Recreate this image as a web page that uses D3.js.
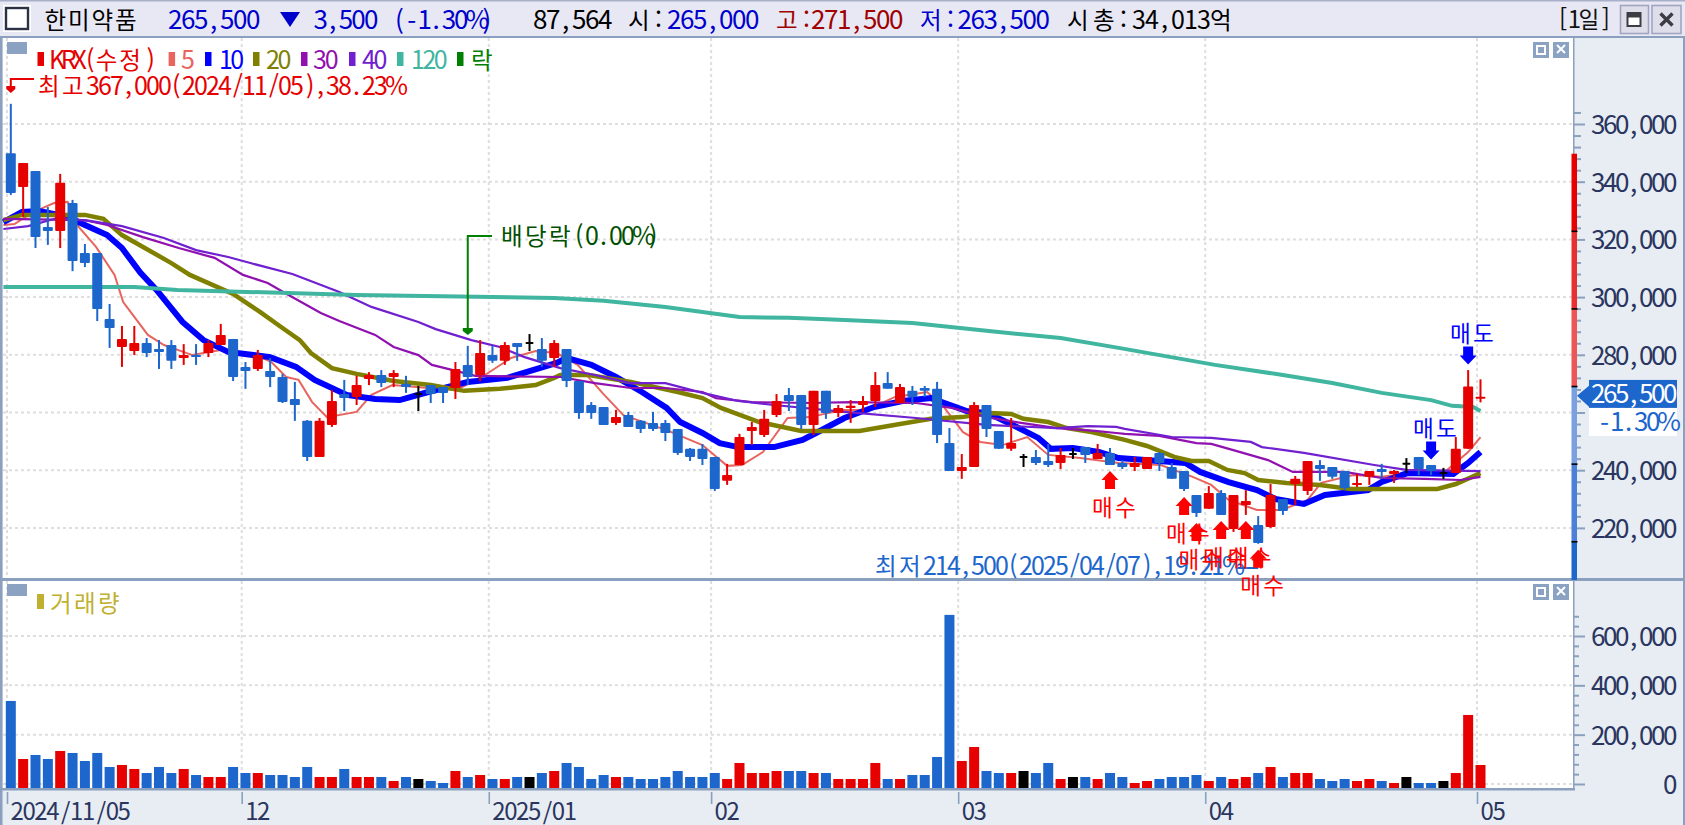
<!DOCTYPE html>
<html lang="ko"><head><meta charset="utf-8">
<script src="https://cdn.jsdelivr.net/npm/d3@7"></script>
<style>html,body{margin:0;padding:0;background:#fff;overflow:hidden}svg{display:block}text{font-family:"Liberation Sans Narrow","Noto Sans CJK KR",sans-serif}</style>
</head><body><svg id="c" width="1685" height="825"></svg>
<script>
// ---------- data (prices in thousand KRW, volumes in thousand shares) ----------
const opens=[349.9,338.2,343.7,324.3,322.9,332.6,315.3,315.3,292.4,282.7,281.3,284.1,282,283.4,278.9,279.9,280.6,283.4,285.5,275.8,275.1,274.4,272.3,264.7,257.1,244.6,255.7,266.4,265.4,271.6,273,272.3,269.9,266.4,269.5,268.8,268.5,276.5,273,279.9,277.9,284.1,284.1,282,278.9,282,270.9,262.6,261.9,256.4,259.1,257.1,256.4,256.4,254.3,247.4,247.4,244.6,236.3,241.8,253.6,252.2,259.1,266.1,266.1,255.7,267.5,259.8,261.6,262.6,264,270.2,263.3,267.5,268.5,268.2,249.4,239.7,241.1,262.6,253.6,247.4,244.6,244.6,243.2,242.5,245.6,248,243.9,246,242.5,241.1,240.4,246,241.1,239.7,231.4,226.6,232.1,219.6,227.9,221,220.3,230,235.2,232.8,241.8,241.1,239.7,234.9,237.7,240.4,238.7,242.2,244.6,241.8,239,239,247.4,265];
const closes=[336.1,346.5,320.8,322.9,339.6,312.5,311.8,295.9,289.3,285.5,284.1,280.6,281,277.9,279.9,279.6,284.1,286.9,272.3,274.4,279.9,272.3,263.6,262.6,244.6,257.1,264,265,269.5,273,270.2,273.7,268.8,266.4,266.4,266.8,275.1,272.3,280.6,277.9,283.4,282.7,284.1,277.9,284.1,270.9,259.8,259.8,255.7,258.4,255,254.3,254.3,252.9,246,244.6,243.9,233.5,238.3,251.5,255,257.8,264,264,255.7,267.5,259.8,261.6,262.3,264,269.5,268.2,268.8,265.4,267.5,252.2,239.7,241.1,262.6,254.3,247.4,249.4,244.6,242.5,241.8,245.3,245.6,245.3,246,241.8,241.1,242.5,244.6,242.5,237,233.5,225.2,232.1,224.5,231.4,229.3,214.8,231.4,225.9,237,243.2,240.4,237.7,233.8,235.6,239.7,239.4,239.7,242.2,240.4,239.7,239,247.4,269,265.5];
const highs=[367,346.5,343.7,331.2,342.7,333.7,318.4,315.3,297.6,290,290,285.8,285.1,285.1,283.7,283.7,285.1,290.7,285.5,277.5,281.7,278.9,273.4,270.6,257.4,258.1,267.8,271.3,272.7,274,274.7,274.7,272.7,269.2,269.5,268.8,277.5,283.1,285.1,283.1,284.4,284.1,287.2,285.8,285.1,282,270.9,263.6,261.9,260.9,260.2,257.4,260.2,257.4,254.3,247.7,249.1,244.6,242.2,252.6,256.7,260.9,266.4,268.5,266.1,267.5,267.5,262.6,264.3,265.7,274,274,269.9,269.2,269.2,270.6,254.6,245.6,263.6,262.6,253.6,258.1,245.6,247,249.1,247.7,247.7,248,249.1,247.7,243.5,244.6,244.6,246.3,242.5,239.7,231.4,234.5,233.1,231.4,233.1,224.1,235.2,230,238,243.2,243.5,241.1,239.7,238.7,239.7,242.2,240.1,244.2,244.6,241.8,240.8,251.5,274.7,271.5];
const lows=[335.4,327.8,317,318.1,317,309,310.4,291.7,282.4,275.8,279.9,279.2,275.1,275.1,276.5,276.5,279.2,283.4,270.9,268.2,274.4,268.8,263.3,257.1,243.2,244.6,255,260.5,262.6,269.5,268.8,268.8,266.8,260.5,263.3,263.3,264.7,269.5,270.9,277.2,276.5,277.9,281.3,275.8,275.8,268.8,257.8,257.8,255.7,255.7,255,252.9,253.6,250.1,245.3,243.2,241.8,232.8,234.9,241.8,248.7,251.5,258.4,260.5,254.3,252.2,257.8,258.4,256.4,260.2,261.9,268.2,263.3,262.6,265.4,249.4,239.7,237,241.1,251.5,247.4,246.7,241.1,241.8,241.1,240.4,243.9,242.5,243.9,241.8,240.4,239.7,240.4,239.7,237,232.8,223.8,226.6,224.5,218.6,224.5,214.5,220,224.5,228,231.4,236.3,237,233.1,234.2,234.9,237,235.6,239,238.3,238.3,237,239,247.4,263.5];
const volumes=[336.7,101.4,117.7,101.4,133.9,125.8,93.3,125.8,69,77.1,60.9,44.6,69,44.6,60.9,36.5,28.4,28.4,69,44.6,44.6,36.5,36.5,28.4,69,28.4,28.4,60.9,28.4,28.4,28.4,12.2,28.4,20.3,12.2,4.1,52.7,28.4,36.5,20.3,20.3,28.4,28.4,44.6,52.7,85.2,69,20.3,36.5,28.4,28.4,20.3,20.3,28.4,52.7,28.4,28.4,44.6,20.3,85.2,44.6,44.6,52.7,52.7,52.7,44.6,44.6,20.3,20.3,20.3,85.2,20.3,20.3,36.5,36.5,109.5,685.6,93.3,150.1,52.7,44.6,44.6,52.7,44.6,85.2,20.3,28.4,28.4,20.3,44.6,28.4,4.1,12.2,20.3,28.4,28.4,36.5,12.2,28.4,20.3,28.4,44.6,69,28.4,44.6,44.6,20.3,12.2,20.3,12.2,20.3,12.2,4.1,28.4,4.1,4.1,12.2,44.6,279.9,77.1];
// moving averages as read: [bar index, price]
const ma5=[[-.6,325],[.3,325.3],[1.2,327.8],[2.6,330.9],[3.5,332.6],[4.6,333],[5.5,324.3],[6.9,317.4],[8.4,307.7],[9.1,298.3],[11.1,286.9],[12.4,283.4],[14.7,279.9],[17,281.7],[19.9,279.9],[21.1,277.5],[22.3,272.3],[23.3,271.3],[24.4,263.6],[25.6,258.4],[28,260.2],[29.2,266.1],[30.9,269.5],[33.8,268.5],[36.1,267.8],[38.4,273],[40.5,278.9],[42.5,281.3],[44.2,280.6],[45.9,276.5],[47.9,266.8],[49.6,259.1],[53.1,253.9],[56,248.7],[58,241.5],[59.2,241.8],[60.9,246.3],[62.9,258.1],[64.7,258.4],[67.3,260.9],[69.3,260.9],[71.6,265.4],[74.2,267.1],[75.6,261.6],[77.1,253.2],[78.5,249.8],[80.3,248.7],[82.3,251.5],[84,245.3],[86.6,244.2],[89.7,242.5],[93.1,241.8],[95.7,237.7],[97.2,234.9],[98.6,229.7],[100.9,226.2],[102.9,226.2],[105,229.7],[106.1,235.6],[108.7,238.3],[111,237.7],[113.3,239],[116.2,239.7],[118,246.3],[119,251.5]];
const ma10=[[-.6,326],[.9,329.5],[2.3,329.8],[4.6,327.8],[6,325],[7.8,321.5],[9,317],[10.5,308.4],[11.8,302.5],[13.9,291.4],[15.6,285.1],[17.6,281],[21,279.2],[23.1,275.8],[24.6,271.3],[27.2,266.1],[29.5,264.7],[31.5,264.3],[33.8,267.1],[37,270.6],[40.2,272],[44.2,277.2],[45,278.9],[47,276.5],[49,272.3],[51.1,267.1],[53.1,261.6],[54.2,256.7],[56,252.9],[57.4,249.4],[58.9,248],[61.8,248],[64.1,250.5],[65.2,252.9],[67.5,258.1],[69.9,261.9],[72.2,264],[74.5,265],[75.6,263.3],[77.4,260.5],[79.1,259.8],[81.1,255.7],[83.2,251.2],[84.2,247.4],[86,247.7],[88.1,246.3],[89.7,244.2],[95.1,242.5],[96.3,239.4],[98.6,235.9],[100.9,233.1],[102.4,230],[104.7,228.3],[106.4,231.4],[109.9,233.1],[111,235.9],[113.1,239],[116.8,238.7],[118,242.5],[119,246.3]];
const ma20=[[-.6,326.7],[.9,328.5],[6,328.5],[7.5,327.1],[9,321.5],[13,311.8],[14.5,307.7],[18,301.1],[20.2,294.8],[22,289.3],[23.4,285.1],[24.3,280.6],[26,275.4],[28,273.4],[31,270.9],[34,269.5],[36.7,267.5],[39.6,268.2],[42.5,269.5],[44,272],[44.5,273],[46.8,273],[50.2,270.6],[54,267.1],[56,265],[57.5,261.6],[60.6,256.7],[64,253.6],[68.7,253.6],[72,256],[74.5,257.8],[77,258.4],[79.3,259.8],[81,259.5],[82,257.8],[84,256.7],[85.5,254.6],[87.5,253.2],[90.2,250.5],[92,248.4],[94.2,244.6],[95.6,243.2],[97,243.2],[98.5,240.1],[99.9,239],[101,236.6],[103.3,235.6],[106,234.9],[108.5,233.5],[115.5,233.5],[117,235.2],[119,239]];
const ma30=[[-.6,327.1],[6,326.7],[7.8,325],[10.7,320.8],[13.6,317],[16.5,313.6],[18.8,307.7],[20.8,304.9],[22.2,301.4],[25.1,294.5],[26.6,291.7],[29.5,286.9],[31,282.7],[33,279.9],[34.1,276.5],[35.8,274.7],[37.6,272.7],[44.5,272.3],[47.3,270.2],[50.2,268.5],[53,268.5],[56,267.1],[57.1,265],[60,263.6],[64.7,263.3],[68,263.6],[73.3,263.3],[76.2,261.6],[79,258.4],[81.8,256.4],[84.7,254.6],[87.8,253.6],[89.5,252.9],[90.2,252.6],[93,251.9],[96,249.4],[97.2,249.1],[99.2,246.7],[101.8,243.5],[103.8,239.4],[108,239.4],[111,237.3],[114.5,237],[117.4,236.6],[119,237.7]];
const ma40=[[-.6,323.6],[1.4,324.6],[3.8,327.4],[6.4,326.4],[9,324.6],[12.4,320.5],[15,316.3],[17.6,313.9],[19.4,311.8],[22.8,308],[26.6,301.8],[29.2,296.6],[33,291.4],[34.4,288.9],[37.3,285.1],[39.6,282.7],[41.6,279.2],[44.5,275.4],[47.3,273],[50.2,270.2],[53,270.2],[56,266.8],[58.9,264],[61.8,262.6],[67.5,260.2],[73.3,258.1],[79,255.7],[84.7,254.6],[87.2,255.3],[89.5,255],[90.2,254.3],[94,251.5],[97.2,251.2],[100.4,249.8],[101.3,248],[104.7,246],[110.4,241.8],[113,240.1],[119,239.7]];
const ma120=[[-.6,303.5],[10,303.5],[13.5,302.5],[28,300.7],[44,299.7],[48,298.7],[53,296.6],[56,294.8],[59,293.1],[63,292.8],[67.5,292.1],[73,291],[79,288.3],[85,285.8],[89.7,282.4],[97.5,276.5],[103,273],[107,270.2],[111,266.8],[115,264.3],[116.7,262.3],[118.4,261.9],[119,260.5]];
const priceTicks=[220,240,260,280,300,320,340,360];
const volumeTicks=[0,200,400,600];
const monthBars=[0,19,39,57,77,97,119];
const monthLabels=["2024/11/05","12","2025/01","02","03","04","05"];
const buyBars=[89,95,96,98,100,101];
const sellBars=[115,118];
const dividendBar=37;
const limitStops=[349.7,322.8,295.9,269,242.1,215.2,188.3];

// ---------- palette / layout ----------
const RED="#e60000",BLUE="#1c66cc",FRAME="#8aa0be",AXBG="#e7edf2",NAVY="#2a3560";
const svg=d3.select("#c");
const fmt=d=>d3.format(",")(d*1000);
const x=d3.scaleLinear().domain([0,119]).range([10.8,1480.5]);
const xTick=d3.scaleLinear().domain([0,119]).range([7,1477]);
const y=d3.scaleLinear().domain([360,220]).range([124,527.9]);
const yV=d3.scaleLinear().domain([0,600]).range([784,636]);
const L=3,R=1573,PT=38,PB=578,VT=581,VB=788;

// half-width / full-width character cells, as in the original terminal font
const isWide=ch=>ch.charCodeAt(0)>0x2E80;
const nudge={",":3,"/":3,".":3,":":1,"(":2,")":4,"[":2,"]":2,"-":2,"%":-1};
function mono(sel,str,x0,adv,size){
  sel.attr("font-size",size).text(null);
  let p=x0,run=null,runWide=null,xs=[];
  const flush=()=>{if(run===null)return;sel.append("tspan").attr("x",xs.join(" ")).attr("font-size",runWide?size*.94:size).text(run);};
  for(const ch of str){
    const w=isWide(ch);
    if(w!==runWide){flush();run="";xs=[];runWide=w;}
    run+=ch;xs.push((p+(nudge[ch]||0)).toFixed(1));
    p+=w?adv*2:adv;
  }
  flush();return sel;
}
function label(g,str,x0,yc,adv,size,color,weight){
  const t=g.append("text").attr("y",yc).attr("dy",".36em").attr("font-size",size).attr("fill",color);
  if(weight)t.attr("font-weight",weight);
  return mono(t,str,x0,adv,size);
}
// backgrounds
svg.append("rect").attr("width",1685).attr("height",825).attr("fill",AXBG);
svg.append("rect").attr("x",L).attr("y",PT).attr("width",R-L).attr("height",PB-PT).attr("fill","#fff");
svg.append("rect").attr("x",L).attr("y",VT).attr("width",R-L).attr("height",VB-VT).attr("fill","#fff");
svg.append("rect").attr("width",1685).attr("height",36).attr("fill","#e8e8f5");
svg.append("rect").attr("width",1685).attr("height",1.5).attr("fill","#a8afc8");
svg.append("rect").attr("y",36).attr("width",1685).attr("height",2).attr("fill",FRAME);
svg.append("rect").attr("x",0).attr("y",36).attr("width",2.5).attr("height",789).attr("fill",FRAME);
svg.append("rect").attr("x",1683).attr("y",36).attr("width",2).attr("height",789).attr("fill",FRAME);
svg.append("rect").attr("x",0).attr("y",PB).attr("width",1685).attr("height",3).attr("fill",FRAME);
svg.append("rect").attr("x",0).attr("y",VB).attr("width",R+2).attr("height",2.5).attr("fill",FRAME);
svg.append("rect").attr("x",R).attr("y",36).attr("width",1.5).attr("height",VB-36).attr("fill",FRAME);

// grid
const grid=svg.append("g").attr("stroke","#dedede").attr("stroke-width",2).attr("stroke-dasharray","3 3");
grid.selectAll(".h").data(priceTicks).join("line").attr("x1",L).attr("x2",R).attr("y1",y).attr("y2",y);
grid.selectAll(".v").data(volumeTicks).join("line").attr("x1",L).attr("x2",R).attr("y1",yV).attr("y2",yV);
monthBars.forEach(i=>{
  grid.append("line").attr("x1",xTick(i)).attr("x2",xTick(i)).attr("y1",PT).attr("y2",PB);
  grid.append("line").attr("x1",xTick(i)).attr("x2",xTick(i)).attr("y1",VT).attr("y2",VB);
});

// moving averages
const line=d3.line().x(d=>x(d[0])).y(d=>y(d[1]));
[[ma5,"#e8645f",2],[ma10,"#0000ff",6],[ma20,"#808000",4.5],[ma30,"#9010b0",2.2],[ma40,"#7020d0",2.2],[ma120,"#40b5a0",4]].forEach(([d,c,w])=>{
  svg.append("path").attr("d",line(d)).attr("fill","none").attr("stroke",c).attr("stroke-width",w);
});

// candles
const idx=d3.range(closes.length);
const col=i=>closes[i]>opens[i]?RED:closes[i]<opens[i]?BLUE:"#000";
const cg=svg.append("g");
cg.selectAll("line").data(idx).join("line").attr("x1",x).attr("x2",x).attr("y1",i=>y(highs[i])).attr("y2",i=>y(lows[i])).attr("stroke",col).attr("stroke-width",2);
cg.selectAll("rect").data(idx).join("rect")
  .attr("x",i=>x(i)-(col(i)==="#000"?4:5)).attr("width",i=>col(i)==="#000"?8:10)
  .attr("y",i=>y(Math.max(opens[i],closes[i]))-(opens[i]===closes[i]?1:0))
  .attr("height",i=>Math.max(2,y(Math.min(opens[i],closes[i]))-y(Math.max(opens[i],closes[i]))))
  .attr("rx",1).attr("fill",col);

// volume bars
svg.append("g").selectAll("rect").data(idx).join("rect")
  .attr("x",i=>x(i)-5).attr("width",10).attr("y",i=>yV(volumes[i])).attr("height",i=>VB-yV(volumes[i])).attr("fill",col);

// axes
const AX=R+1;
const tickStyle=g=>{g.select(".domain").remove();g.selectAll("line").attr("stroke",FRAME).attr("stroke-width",2);};
svg.append("g").attr("transform",`translate(${AX},0)`)
  .call(d3.axisRight(y).tickValues(d3.range(220,365,4).filter(v=>v%20)).tickSize(7).tickFormat("")).call(tickStyle);
const pa=svg.append("g").attr("transform",`translate(${AX},0)`)
  .call(d3.axisRight(y).tickValues(priceTicks).tickSize(11).tickPadding(6).tickFormat(fmt)).call(tickStyle);
svg.append("g").attr("transform",`translate(${AX},0)`)
  .call(d3.axisRight(yV).tickValues(d3.range(0,681,40).filter(v=>v%200)).tickSize(5).tickFormat("")).call(tickStyle);
const va=svg.append("g").attr("transform",`translate(${AX},0)`)
  .call(d3.axisRight(yV).tickValues(volumeTicks).tickSize(11).tickPadding(6).tickFormat(fmt)).call(tickStyle);
[pa,va].forEach(a=>{a.attr("font-family",null);a.selectAll("text").each(function(){
  const s=d3.select(this),str=s.text();
  s.attr("fill",NAVY).attr("dy",".36em");
  mono(s,str,1675-12*str.length-AX,12,26);
});});
const ba=svg.append("g").attr("transform",`translate(0,${VB+4})`)
  .call(d3.axisBottom(xTick).tickValues(monthBars).tickSize(12).tickFormat((d,i)=>monthLabels[i])).call(tickStyle);
ba.attr("font-family",null);
ba.selectAll("line").attr("stroke-width",1.6);
ba.selectAll(".tick").each(function(d){
  const s=d3.select(this).select("text"),str=s.text();
  s.attr("fill",NAVY).attr("y",19).attr("dy",".36em").attr("text-anchor","start");
  mono(s,str,3,11.9,24);
});

// limit ruler beside the price axis
const rulerColors=["#e60000","#e83030","#ee5555","#7aa0e0","#4a80d8","#1c66cc"];
rulerColors.forEach((c,k)=>{
  const t=y(limitStops[k]),b=Math.min(580,y(limitStops[k+1]));
  svg.append("rect").attr("x",1571.5).attr("y",t).attr("width",5.5).attr("height",b-t).attr("fill",c);
  if(k>0)svg.append("rect").attr("x",1571.5).attr("y",t-.8).attr("width",6).attr("height",1.6).attr("fill","#000");
});

// current price tag
const cy=y(closes[119]);
svg.append("path").attr("d",`M1577 ${cy-1}L1589 ${cy-11}V${cy+10}Z`).attr("fill",BLUE);
svg.append("rect").attr("x",1589).attr("y",cy-16.7).attr("width",88).attr("height",28).attr("fill",BLUE);
svg.append("rect").attr("x",1589).attr("y",cy+11.3).attr("width",88).attr("height",28).attr("fill","#fff");
label(svg,fmt(closes[119]),1591,cy-2.7,12,26,"#fff");
label(svg,"-1.30%",1598,cy+25.3,12,26,BLUE);

// annotations
const ann=svg.append("g");
label(ann,"최고367,000(2024/11/05),38.23%",38,86,12,25,RED);
ann.append("path").attr("d",`M34 79H${x(0)}V88`).attr("fill","none").attr("stroke",RED).attr("stroke-width",2);
ann.append("path").attr("d",`M${x(0)-4.5} 86h9v3l-4.5 4l-4.5 -4z`).attr("fill",RED);
label(ann,"최저214,500(2025/04/07),19.21%",875,566,12,25,BLUE);
ann.append("path").attr("d",`M1237 568H${x(101)}`).attr("stroke",BLUE).attr("stroke-width",2);
const dx=x(dividendBar);
ann.append("path").attr("d",`M492 236H${dx}V330`).attr("fill","none").attr("stroke","#008000").attr("stroke-width",2);
ann.append("path").attr("d",`M${dx-5} 328h10v3l-5 4l-5 -4z`).attr("fill","#008000");
label(ann,"배당락(0.00%)",501,236,12,25,"#005000");

// signals
const arrowUp="M0 0L8.5 9H5V18H-5V9H-8.5Z",arrowDown="M0 0L8.5 -9H5V-18H-5V-9H-8.5Z";
buyBars.forEach(i=>{
  const tip=y(lows[i])+6;
  label(ann,"매수",x(i)+5-23,tip+36,11.5,24,"#ff0000");
  ann.append("path").attr("d",arrowUp).attr("transform",`translate(${x(i)},${tip})`).attr("fill","#ff0000");
});
sellBars.forEach(i=>{
  const tip=y(highs[i])-5.5;
  label(ann,"매도",x(i)+5-23,tip-31,11.5,24,"#0000ff");
  ann.append("path").attr("d",arrowDown).attr("transform",`translate(${x(i)},${tip})`).attr("fill","#0000ff");
});

// legend
const leg=svg.append("g");
function gbox(g,yy){g.append("rect").attr("x",7).attr("y",yy).attr("width",20).attr("height",12).attr("fill","#8ba2c2");}
gbox(leg,42);
[[37.5,"KRX(수정)",49,RED,11.7],[168.6,"5",181,"#e8645f",11.7],[205,"10",219,"#0000ff",11.2],[253,"20",266,"#808000",11.6],[301,"30",313,"#9010b0",11.8],[349,"40",362,"#7020d0",11.6],[397,"120",411,"#40b5a0",11.4],[457,"락",471,"#008000",10]].forEach(([sx,t,tx,c,a])=>{
  leg.append("rect").attr("x",sx).attr("y",52).attr("width",6.5).attr("height",14).attr("fill",c);
  label(leg,t,tx,60,a,25,c);
});
gbox(leg,584);
leg.append("rect").attr("x",37).attr("y",594).attr("width",7).attr("height",15).attr("fill","#c0b030");
label(leg,"거래량",50,603,12,25,"#c0b030");

// panel buttons
function panelBtn(yy){
  const g=svg.append("g");
  g.append("rect").attr("x",1533).attr("y",yy).attr("width",16).attr("height",16).attr("fill","#8ba2c2");
  g.append("rect").attr("x",1536).attr("y",yy+3).attr("width",10).attr("height",10).attr("fill","#fff");
  g.append("rect").attr("x",1538).attr("y",yy+5).attr("width",6).attr("height",6).attr("fill","#8ba2c2");
  g.append("rect").attr("x",1553).attr("y",yy).attr("width",16).attr("height",16).attr("fill","#8ba2c2");
  g.append("path").attr("d",`M1557 ${yy+3}l8 8M1565 ${yy+3}l-8 8`).attr("stroke","#fff").attr("stroke-width",2);
}
panelBtn(42);panelBtn(584);

// header
const hd=svg.append("g");
hd.append("rect").attr("x",3).attr("y",5).attr("width",28).attr("height",27).attr("fill","#fff");
hd.append("rect").attr("x",6).attr("y",8).attr("width",22).attr("height",21).attr("fill","#fff").attr("stroke","#2c3245").attr("stroke-width",2.4);
const HY=19.5,HB="#0000cc",HR="#a00000";
label(hd,"한미약품",44.5,HY,11.75,25,"#000");
label(hd,"265,500",168,HY,13,26,HB);
hd.append("path").attr("d",`M280 12H300L290 27Z`).attr("fill",HB);
label(hd,"3,500",313.5,HY,12.6,26,HB);
label(hd,"(-1.30%)",393,HY,12.2,26,HB);
label(hd,"87,564",533,HY,13,26,"#000");
label(hd,"시:",628,HY,13,25,"#000");
label(hd,"265,000",667,HY,13,26,HB);
label(hd,"고:",776,HY,13,25,HR);
label(hd,"271,500",811,HY,13,26,HR);
label(hd,"저:",920,HY,13,25,HB);
label(hd,"263,500",957.5,HY,13,26,HB);
label(hd,"시총:34,013억",1067,HY,13,25,"#000");
label(hd,"[1일]",1557,HY,10.7,24,"#111");
hd.append("rect").attr("x",1620.5).attr("y",5.5).attr("width",28).attr("height",28).attr("fill","#dedeea").attr("stroke","#a0a4c0").attr("stroke-width",1.6);
hd.append("rect").attr("x",1652).attr("y",5.5).attr("width",29).attr("height",28).attr("fill","#dedeea").attr("stroke","#a0a4c0").attr("stroke-width",1.6);
hd.append("rect").attr("x",1627.5).attr("y",13).attr("width",13).attr("height",13).attr("fill","#fff").attr("stroke","#3c3c44").attr("stroke-width",2);
hd.append("rect").attr("x",1627).attr("y",12.5).attr("width",14).attr("height",5).attr("fill","#3c3c44");
hd.append("path").attr("d","M1660.5 13.5l12 12M1672.5 13.5l-12 12").attr("stroke","#3c3c44").attr("stroke-width",3.4);
</script></body></html>
